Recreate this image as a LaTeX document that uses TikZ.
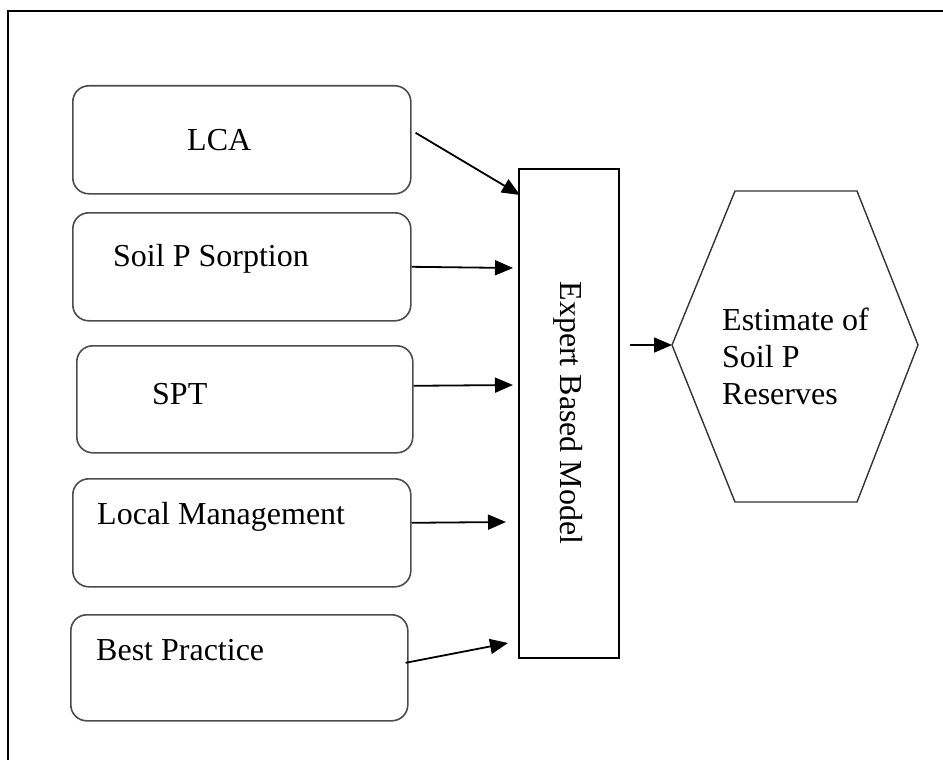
\documentclass[tikz,border=0pt]{standalone}
\usepackage{fontspec}
\setmainfont{Liberation Serif}
\usetikzlibrary{arrows.meta}
\begin{document}
\begin{tikzpicture}[x=1pt,y=-1pt,
  inbox/.style={draw=black!70,line width=1.6pt,rounded corners=16pt},
  txt/.style={anchor=base west,inner sep=0pt,font=\fontsize{32}{37}\selectfont},
  arr/.style={line width=1.8pt,-{Triangle[length=18pt,width=15pt]}}]
\useasboundingbox (0,0) rectangle (943,760);
% outer frame (top and left visible)
\draw[line width=2pt] (8,760) -- (8,11) -- (943,11);
% input boxes
\node[inbox,minimum width=338pt,minimum height=108pt,anchor=north west] (lca) at (72,85) {};
\node[inbox,minimum width=338pt,minimum height=108pt,anchor=north west] (sorp) at (72,212) {};
\node[inbox,minimum width=336pt,minimum height=107pt,anchor=north west] (spt) at (76,345) {};
\node[inbox,minimum width=338pt,minimum height=108pt,anchor=north west] (loc) at (72,478) {};
\node[inbox,minimum width=337pt,minimum height=106pt,anchor=north west] (best) at (70,614) {};
\node[txt] (tlca) at (187,150) {LCA};
\node[txt] (tsorp) at (113,266) {Soil P Sorption};
\node[txt] (tspt) at (152,404) {SPT};
\node[txt] (tloc) at (97,524) {Local Management};
\node[txt] (tbest) at (96,660) {Best Practice};
% expert model
\node[draw,line width=1.6pt,minimum width=100pt,minimum height=489pt,anchor=north west] (model) at (518,168) {};
\node[rotate=-90,inner sep=0pt,font=\fontsize{32}{37}\selectfont] (tmodel) at (568,413) {Expert Based Model};
% hexagon
\coordinate (h1) at (735,191);
\coordinate (h2) at (857,191);
\coordinate (h3) at (918,345);
\coordinate (h4) at (857,502);
\coordinate (h5) at (735,502);
\coordinate (h6) at (672,345);
\draw[line width=1.4pt,black!80] (h1) -- (h2) -- (h3) -- (h4) -- (h5) -- (h6) -- cycle;
\node[txt] (est1) at (722,330) {Estimate of};
\node[txt] (est2) at (722,367) {Soil P};
\node[txt] (est3) at (722,404) {Reserves};
% arrows
\coordinate (m1) at (520,195);
\coordinate (m2) at (513,268);
\coordinate (m3) at (513,385);
\coordinate (m4) at (506,522);
\coordinate (m5) at (508,643);
\draw[arr] ([xshift=4pt,yshift=7pt]lca.east) -- (m1);
\draw[arr] (sorp.east) -- (m2);
\draw[arr] ([yshift=13.5pt]spt.east) -- (m3);
\draw[arr] ([yshift=10pt]loc.east) -- (m4);
\draw[arr] ([xshift=-3pt,yshift=5pt]best.east) -- (m5);
\coordinate (hs) at (630,345);
\draw[arr] (hs) -- (h6);
\end{tikzpicture}
\end{document}
